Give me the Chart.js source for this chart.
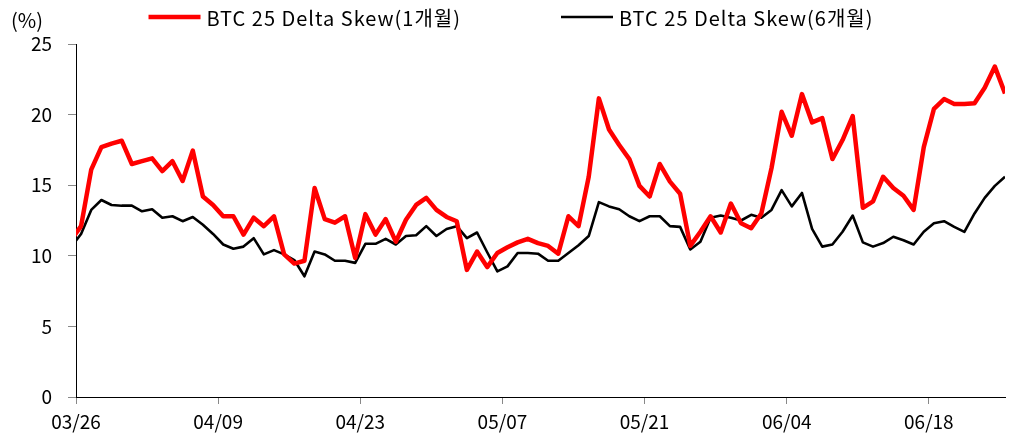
<!DOCTYPE html>
<html>
<head>
<meta charset="utf-8">
<script src="https://cdn.jsdelivr.net/npm/chart.js@4"></script>
<style>
  html, body { margin: 0; padding: 0; background: #fff; }
  #wrap { width: 1012px; height: 437px; }
</style>
</head>
<body>
<div id="wrap"><canvas id="SkewChart" width="1012" height="437"></canvas></div>
<script>
// daily dates, 03/25 .. 06/25 (first point sits half outside the axis)
var dates = [];
var d = new Date(2024, 2, 25);
while (d <= new Date(2024, 5, 25)) {
  dates.push(String(d.getMonth() + 1).padStart(2, '0') + '/' + String(d.getDate()).padStart(2, '0'));
  d.setDate(d.getDate() + 1);
}

var tickDates = ['03/26', '04/09', '04/23', '05/07', '05/21', '06/04', '06/18'];

var seriesNames = ['BTC 25 Delta Skew(1개월)', 'BTC 25 Delta Skew(6개월)'];

var skew1m = [11.1, 12.1, 16.1, 17.7, 17.95, 18.15, 16.5, 16.7, 16.9, 16.0,
  16.7, 15.3, 17.45, 14.2, 13.6, 12.8, 12.8, 11.5, 12.7, 12.1,
  12.8, 10.1, 9.45, 9.65, 14.8, 12.6, 12.35, 12.8, 9.85, 12.95,
  11.5, 12.6, 11.0, 12.55, 13.6, 14.1, 13.25, 12.75, 12.45, 9.0,
  10.3, 9.2, 10.2, 10.6, 10.95, 11.2, 10.9, 10.7, 10.15, 12.8,
  12.1, 15.6, 21.15, 18.95, 17.85, 16.85, 14.95, 14.2, 16.5, 15.25,
  14.4, 10.7, 11.7, 12.8, 11.65, 13.7, 12.3, 11.95, 13.0, 16.2,
  20.2, 18.5, 21.45, 19.45, 19.75, 16.85, 18.2, 19.9, 13.4, 13.85,
  15.6, 14.8, 14.25, 13.25, 17.7, 20.4, 21.1, 20.75, 20.75, 20.8,
  21.9, 23.4, 21.5];

var skew6m = [10.6, 11.55, 13.25, 13.95, 13.6, 13.55, 13.55, 13.15, 13.3, 12.7,
  12.8, 12.45, 12.75, 12.2, 11.55, 10.8, 10.5, 10.65, 11.25, 10.1,
  10.4, 10.1, 9.7, 8.55, 10.3, 10.1, 9.65, 9.65, 9.5, 10.85,
  10.85, 11.2, 10.8, 11.4, 11.45, 12.1, 11.4, 11.9, 12.1, 11.25,
  11.65, 10.25, 8.9, 9.25, 10.2, 10.2, 10.15, 9.65, 9.65, 10.2,
  10.75, 11.4, 13.8, 13.5, 13.3, 12.8, 12.45, 12.8, 12.8, 12.1,
  12.05, 10.45, 11.0, 12.7, 12.85, 12.7, 12.5, 12.9, 12.7, 13.25,
  14.65, 13.5, 14.45, 11.9, 10.65, 10.8, 11.7, 12.85, 10.95, 10.65,
  10.9, 11.35, 11.1, 10.8, 11.7, 12.3, 12.45, 12.05, 11.7, 13.0,
  14.1, 14.95, 15.6];

var FONT = '"Noto Sans CJK KR", "Noto Sans", sans-serif';

// x = days since 03/26, each point centred in its day
function toPoints(values) {
  return values.map(function (v, i) { return { x: i - 0.5, y: v }; });
}

// legend + unit label drawn on the canvas, like the original
var topLegend = {
  id: 'topLegend',
  afterDraw: function (chart) {
    var ctx = chart.ctx;
    ctx.save();
    ctx.font = '20px ' + FONT;
    ctx.fillStyle = '#000';
    ctx.textBaseline = 'middle';
    ctx.textAlign = 'left';
    ctx.fillText('(%)', 11, 20);

    ctx.letterSpacing = '1px';
    var lineLen = 52, gap = 6, spacing = 100, y = 17;
    var widths = chart.data.datasets.map(function (ds) {
      return lineLen + gap + ctx.measureText(ds.label).width;
    });
    var total = widths[0] + spacing + widths[1];
    var x = 511 - total / 2;
    chart.data.datasets.forEach(function (ds, i) {
      ctx.strokeStyle = ds.borderColor;
      ctx.lineWidth = ds.borderWidth;
      ctx.beginPath();
      ctx.moveTo(x, y);
      ctx.lineTo(x + lineLen, y);
      ctx.stroke();
      ctx.fillText(ds.label, x + lineLen + gap, y + 1);
      x += widths[i] + spacing;
    });
    ctx.restore();
  }
};

new Chart("SkewChart", {
  type: "line",
  data: {
    datasets: [{
      label: seriesNames[0],
      data: toPoints(skew1m),
      borderColor: '#ff0000',
      borderWidth: 4.5,
      pointRadius: 0,
      tension: 0,
      clip: 0
    }, {
      label: seriesNames[1],
      data: toPoints(skew6m),
      borderColor: '#000000',
      borderWidth: 2.6,
      pointRadius: 0,
      tension: 0,
      clip: 0
    }]
  },
  plugins: [topLegend],
  options: {
    responsive: false,
    animation: false,
    borderJoinStyle: 'round',
    layout: { padding: { top: 44, right: 7, left: 0, bottom: 0 } },
    plugins: {
      legend: { display: false },
      tooltip: { enabled: false }
    },
    scales: {
      x: {
        type: 'linear',
        min: 0,
        max: 91.5,
        afterBuildTicks: function (scale) {
          scale.ticks = tickDates.map(function (t) { return { value: dates.indexOf(t) - 1 }; });
        },
        afterFit: function (scale) { scale.height = 40; },
        ticks: {
          autoSkip: false,
          maxRotation: 0,
          padding: 6,
          color: '#000',
          font: { family: FONT, size: 19 },
          callback: function (value) { return dates[value + 1]; }
        },
        grid: { drawOnChartArea: false, drawTicks: true, tickLength: 7, color: '#888' },
        border: { color: '#000', width: 1 }
      },
      y: {
        min: 0,
        max: 25,
        afterFit: function (scale) { scale.width = 76; },
        ticks: {
          stepSize: 5,
          padding: 16,
          color: '#000',
          font: { family: FONT, size: 19 }
        },
        grid: { drawOnChartArea: false, drawTicks: true, tickLength: 8, color: '#888' },
        border: { color: '#000', width: 1 }
      }
    }
  }
});
</script>
</body>
</html>
